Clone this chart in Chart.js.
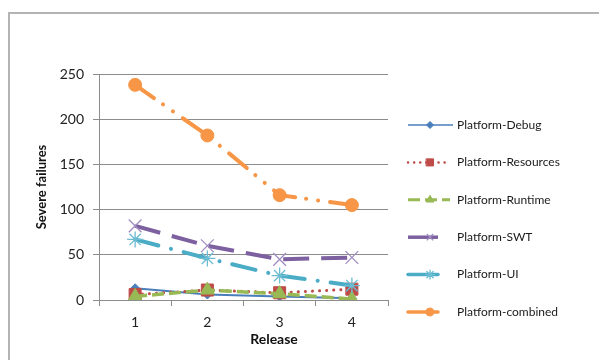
<!DOCTYPE html>
<html>
<head>
<meta charset="utf-8">
<script src="https://cdn.jsdelivr.net/npm/chart.js@4.4.1/dist/chart.umd.min.js"></script>
<style>
  html, body { margin: 0; padding: 0; background: #ffffff; overflow: hidden; }
  #wrap { position: absolute; left: 0; top: 0; width: 599px; height: 360px; }
  #frame { position: absolute; left: 8px; top: 12px; width: 700px; height: 500px;
           border-left: 2px solid #b4b4b4; border-top: 2px solid #b4b4b4; }
  canvas { position: absolute; left: 0; top: 0; }
</style>
</head>
<body>
<div id="wrap">
  <div id="frame"></div>
  <canvas id="c" width="599" height="360"></canvas>
</div>
<script>
const releases = ['1', '2', '3', '4'];
const seriesNames = ['Platform-Debug', 'Platform-Resources', 'Platform-Runtime',
                     'Platform-SWT', 'Platform-UI', 'Platform-combined'];
const platformDebug = [13, 6, 4, 2];
const platformResources = [6, 11, 8, 12];
const platformRuntime = [4, 11, 7, 1];
const platformSWT = [82, 60, 45, 47];
const platformUI = [67, 46, 27, 16];
const platformCombined = [238, 182, 116, 105];
const yTicks = [0, 50, 100, 150, 200, 250];

const seriesValues = [platformDebug, platformResources, platformRuntime,
                      platformSWT, platformUI, platformCombined];

// Visual style of each series: line colour, dash, marker
const styles = [
  { color: '#4A7EBB', width: 2,   dash: [],                       cap: 'butt',
    marker: 'rectRot', radius: 4.5, fill: '#4A7EBB', stroke: '#4A7EBB', mw: 1,   lr: 3.5, legendLen: 45 },
  { color: '#BE4B48', width: 3,   dash: [0.1, 7],                 cap: 'round',
    marker: 'rect',    radius: 8.5, fill: '#BE4B48', stroke: '#BE4B48', mw: 1,   lr: 5,   legendLen: 42 },
  { color: '#98B954', width: 3.5, dash: [12, 5],                  cap: 'butt',
    marker: 'triangle', radius: 8, fill: '#98B954', stroke: '#98B954', mw: 1,    lr: 4.5, legendLen: 42 },
  { color: '#7D60A0', width: 4,   dash: [26, 12],                 cap: 'butt',
    marker: 'crossRot', radius: 9, fill: '#9f8cc0', stroke: '#9f8cc0', mw: 1.3,  lr: 4.5, legendLen: 30 },
  { color: '#4BACC6', width: 4,   dash: [24, 13, 0.1, 13],        cap: 'round',
    marker: 'star',    radius: 8, fill: '#7cc3d6', stroke: '#6cbcd2', mw: 1.3,   lr: 4.5, legendLen: 30 },
  { color: '#F79646', width: 4,   dash: [23, 11, 0.1, 12, 0.1, 12], cap: 'round',
    marker: 'circle',  radius: 6.5, fill: '#F79646', stroke: '#F79646', mw: 1,  lr: 4,   legendLen: 30 }
];

const datasets = seriesNames.map((name, i) => ({
  label: name,
  data: seriesValues[i],
  borderColor: styles[i].color,
  borderWidth: styles[i].width,
  borderDash: styles[i].dash,
  borderCapStyle: styles[i].cap,
  pointStyle: styles[i].marker,
  pointRadius: styles[i].radius,
  pointHoverRadius: styles[i].radius,
  pointBackgroundColor: styles[i].fill,
  pointBorderColor: styles[i].stroke,
  pointBorderWidth: styles[i].mw,
  tension: 0,
  fill: false,
  order: seriesNames.length - i
}));

// Legend on the right: line sample, marker, name
const sideLegend = {
  id: 'sideLegend',
  afterDraw(chart) {
    const ctx = chart.ctx;
    const x0 = 408, textX = 457, y0 = 125, step = 37.4;
    ctx.save();
    seriesNames.forEach((name, i) => {
      const s = styles[i];
      const y = y0 + i * step;
      ctx.beginPath();
      ctx.strokeStyle = s.color;
      ctx.lineWidth = s.width - 0.5;
      ctx.lineCap = s.cap;
      const d = i === 1 ? [0.1, 6] : (i === 2 ? [12, 5] : []);
      ctx.setLineDash(d);
      ctx.moveTo(x0, y);
      ctx.lineTo(x0 + s.legendLen, y);
      ctx.stroke();
      ctx.setLineDash([]);
      ctx.fillStyle = s.fill;
      ctx.strokeStyle = s.stroke;
      ctx.lineWidth = s.mw;
      Chart.helpers.drawPoint(ctx, { pointStyle: s.marker, radius: s.lr, borderWidth: s.mw, rotation: 0 }, 430, y);
      ctx.fillStyle = '#1a1a1a';
      ctx.font = '12px Lato, "Open Sans", sans-serif';
      ctx.textBaseline = 'middle';
      ctx.textAlign = 'left';
      ctx.fillText(name, textX, y);
    });
    // x-axis title
    ctx.font = 'bold 14px Lato, "Open Sans", sans-serif';
    ctx.fillStyle = '#111111';
    ctx.textAlign = 'center';
    ctx.textBaseline = 'middle';
    ctx.fillText('Release', 274, 339);
    ctx.restore();
  }
};

new Chart(document.getElementById('c'), {
  type: 'line',
  data: { labels: releases, datasets },
  options: {
    responsive: false,
    animation: false,
    events: [],
    layout: { padding: { top: 74, right: 211, left: 0, bottom: 0 } },
    plugins: { legend: { display: false }, tooltip: { enabled: false } },
    scales: {
      x: {
        offset: true,
        afterFit(scale) { scale.height = 60; },
        grid: { offset: true, drawOnChartArea: false, drawTicks: true, tickLength: 6,
                color: '#8c8c8c', lineWidth: 1 },
        border: { color: '#8c8c8c', width: 1 },
        ticks: { color: '#222222', padding: 8, font: { family: 'Lato, "Open Sans", sans-serif', size: 14 } },
        title: { display: false }
      },
      y: {
        min: 0, max: 250,
        afterFit(scale) { scale.width = 99; },
        afterBuildTicks(scale) { scale.ticks = yTicks.map(v => ({ value: v })); },
        grid: { color: '#8c8c8c', lineWidth: 1, tickLength: 6, drawTicks: true },
        border: { color: '#8c8c8c', width: 1 },
        ticks: { color: '#222222', padding: 9, font: { family: 'Lato, "Open Sans", sans-serif', size: 14 } },
        title: { display: true, text: 'Severe failures', color: '#111111',
                 font: { family: 'Lato, "Open Sans", sans-serif', size: 13, weight: 'bold' },
                 padding: { top: 34, bottom: 0 } }
      }
    }
  },
  plugins: [sideLegend]
});
</script>
</body>
</html>
